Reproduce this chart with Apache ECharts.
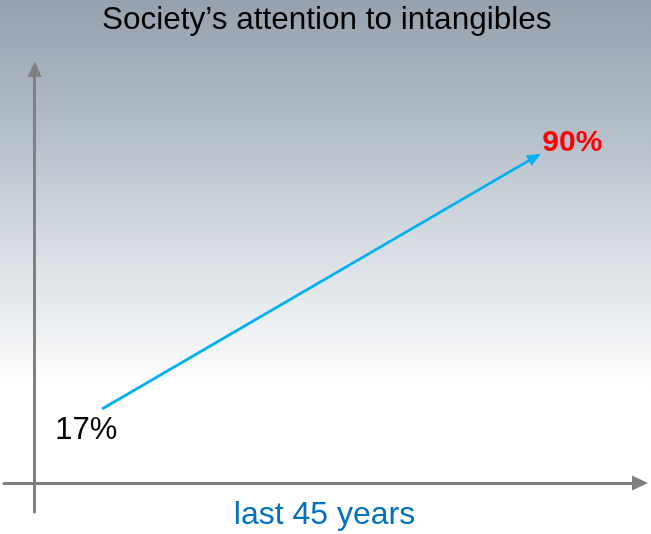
<!DOCTYPE html>
<html>
<head>
<meta charset="utf-8">
<script src="https://cdn.jsdelivr.net/npm/echarts@6/dist/echarts.min.js"></script>
<style>
  html, body { margin: 0; padding: 0; }
  #chart { width: 651px; height: 534px; }
</style>
</head>
<body>
<div id="chart"></div>
<script>
// years counted from the axis origin, and the share of attention (%)
const years = [7, 52]
const attention = [17, 90.1]
const pointLabels = ['17%', '90%']

const chart = echarts.init(document.getElementById('chart'))

const axisLineStyle = { color: '#808080', width: 3 }

const option = {
  backgroundColor: {
    type: 'linear', x: 0, y: 0, x2: 0, y2: 1,
    colorStops: [
      { offset: 0, color: '#95a1ae' },
      { offset: 0.25, color: '#b5bfc9' },
      { offset: 0.5, color: '#dde2e7' },
      { offset: 0.73, color: '#ffffff' },
      { offset: 1, color: '#ffffff' }
    ]
  },
  title: {
    text: 'Society’s attention to intangibles',
    left: 102,
    top: 4,
    padding: 0,
    textStyle: { fontFamily: 'Liberation Sans', fontSize: 31.5, fontWeight: 'normal', color: '#000' }
  },
  grid: { left: 4, right: 11, top: 69, bottom: 22, outerBoundsMode: 'none' },
  xAxis: {
    type: 'value',
    min: -3.19,
    max: 62.94,
    offset: -29,
    name: 'last 45 years',
    nameLocation: 'middle',
    nameGap: 16,
    nameTextStyle: { fontFamily: 'Liberation Sans', fontSize: 32, color: '#0070c0', padding: [0, 0, 0, 5] },
    axisLine: {
      onZero: false,
      symbol: ['none', 'triangle'],
      symbolSize: [15, 16],
      lineStyle: axisLineStyle
    },
    axisTick: { show: false },
    axisLabel: { show: false },
    splitLine: { show: false }
  },
  yAxis: {
    type: 'value',
    min: -12.9,
    max: 115.69,
    axisLine: {
      onZero: true,
      symbol: ['none', 'triangle'],
      symbolSize: [14, 16],
      lineStyle: axisLineStyle
    },
    axisTick: { show: false },
    axisLabel: { show: false },
    splitLine: { show: false }
  },
  series: [
    {
      type: 'line',
      data: years.map((y, i) => ({
        value: [y, attention[i]],
        symbol: i === 0 ? 'circle' : 'triangle',
        symbolSize: i === 0 ? 0.1 : [12, 14],
        symbolRotate: i === 0 ? 0 : -60,
        label: {
          show: true,
          formatter: pointLabels[i],
          position: 'inside',
          offset: i === 0 ? [-15.7, 21] : [37.5, -14.5],
          fontFamily: 'Liberation Sans',
          fontSize: i === 0 ? 31 : 30,
          fontWeight: i === 0 ? 'normal' : 'bold',
          color: i === 0 ? '#000' : '#ff0000'
        }
      })),
      lineStyle: { color: '#00b0f0', width: 2.75 },
      itemStyle: { color: '#00b0f0' },
      emphasis: { disabled: true },
      silent: true,
      animation: false
    }
  ]
}

chart.setOption(option)
</script>
</body>
</html>
